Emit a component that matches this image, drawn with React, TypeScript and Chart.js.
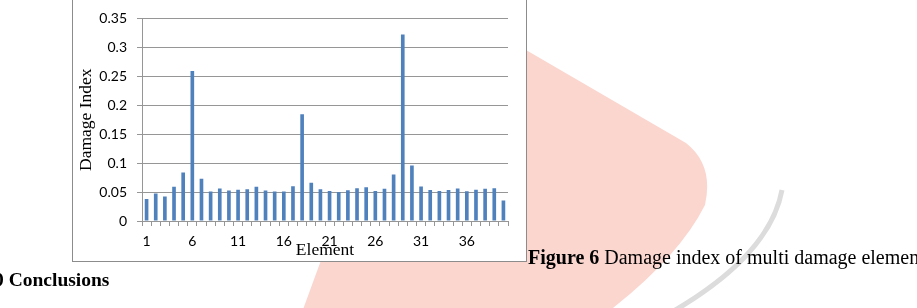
import React, { useEffect, useRef } from "react";
import { Chart, registerables } from "chart.js";

Chart.register(...registerables);

const categories = [
  "1", "2", "3", "4", "5", "6", "7", "8", "9", "10",
  "11", "12", "13", "14", "15", "16", "17", "18", "19", "20",
  "21", "22", "23", "24", "25", "26", "27", "28", "29", "30",
  "31", "32", "33", "34", "35", "36", "37", "38", "39", "40",
];

const damageIndex = [
  0.038, 0.0475, 0.0425, 0.059, 0.084, 0.259, 0.073, 0.051, 0.056, 0.0525,
  0.054, 0.055, 0.059, 0.0525, 0.051, 0.051, 0.06, 0.1845, 0.066, 0.055,
  0.052, 0.05, 0.053, 0.0565, 0.0585, 0.052, 0.0555, 0.0805, 0.322, 0.096,
  0.0595, 0.0535, 0.052, 0.0535, 0.056, 0.0515, 0.054, 0.0555, 0.0567, 0.0354,
];

const xTickLabels = ["1", "6", "11", "16", "21", "26", "31", "36"];

const yMin = 0;
const yMax = 0.35;
const yStep = 0.05;

const GRID = "#969696";
const BAR = "#4F81BD";

export default function App() {
  const ref = useRef<HTMLCanvasElement | null>(null);

  useEffect(() => {
    if (!ref.current) return;
    const chart = new Chart(ref.current, {
      type: "bar",
      data: {
        labels: categories,
        datasets: [
          {
            data: damageIndex,
            backgroundColor: BAR,
            borderWidth: 0,
            barPercentage: 0.4,
            categoryPercentage: 1,
          },
        ],
      },
      options: {
        responsive: false,
        animation: false,
        layout: { padding: { left: 73, right: 409, top: 12, bottom: 46 } },
        plugins: {
          legend: { display: false },
          tooltip: { enabled: false },
        },
        scales: {
          x: {
            afterFit: (s: any) => {
              s.height = 41;
            },
            grid: {
              display: true,
              drawOnChartArea: false,
              drawTicks: true,
              tickLength: 5,
              color: GRID,
              offset: true,
            },
            border: { display: true, color: GRID },
            ticks: {
              autoSkip: false,
              maxRotation: 0,
              minRotation: 0,
              padding: 7,
              color: "#000",
              font: { family: "Lato", size: 14 },
              callback: (_v: any, i: number) => {
                const l = categories[i];
                return xTickLabels.includes(l) ? l : "";
              },
            },
            title: {
              display: true,
              text: "Element",
              color: "#000",
              font: { family: "Liberation Serif", size: 17.5 },
              padding: { top: 0, bottom: 1 },
            },
          },
          y: {
            min: yMin,
            max: yMax,
            afterFit: (s: any) => {
              s.width = 69;
            },
            grid: { color: GRID, tickLength: 5, drawTicks: true },
            border: { display: true, color: GRID },
            ticks: {
              stepSize: yStep,
              padding: 10,
              color: "#000",
              font: { family: "Lato", size: 14 },
              callback: (v: any) => String(Math.round(Number(v) * 100) / 100),
            },
            title: {
              display: true,
              text: "Damage Index",
              color: "#000",
              font: { family: "Liberation Serif", size: 17.5 },
              padding: { top: 3, bottom: 0 },
            },
          },
        },
      },
    });
    return () => chart.destroy();
  }, []);

  return (
    <div
      style={{
        position: "absolute",
        left: 0,
        top: 0,
        width: 917,
        height: 308,
        overflow: "hidden",
        background: "#fff",
      }}
    >
      <svg
        width={917}
        height={308}
        style={{ position: "absolute", left: 0, top: 0 }}
      >
        <path
          d="M400,-100 L526,50 L686,143 Q714,165 705,205 Q680,255 613,308 L585,345 L290,345 L320,263 L400,40 Z"
          fill="#fbd6cf"
        />
        <path
          d="M782,190 Q770,255 672,312"
          stroke="#dcdcdc"
          strokeWidth={5}
          fill="none"
        />
      </svg>
      <div
        style={{
          position: "absolute",
          left: 72,
          top: -10,
          width: 455,
          height: 272,
          boxSizing: "border-box",
          border: "1px solid #8c8c8c",
          background: "#fff",
        }}
      />
      <canvas
        ref={ref}
        width={917}
        height={308}
        style={{ position: "absolute", left: 0, top: 0, width: 917, height: 308 }}
      />
      <div
        style={{
          position: "absolute",
          left: 528,
          top: 247,
          fontFamily: "'Liberation Serif', serif",
          fontSize: 20,
          lineHeight: "20px",
          whiteSpace: "nowrap",
          color: "#000",
        }}
      >
        <b>Figure 6</b> Damage index of multi damage elements
      </div>
      <div
        style={{
          position: "absolute",
          left: -6,
          top: 270,
          fontFamily: "'Liberation Serif', serif",
          fontSize: 19.5,
          lineHeight: "20px",
          whiteSpace: "nowrap",
          fontWeight: "bold",
          color: "#000",
        }}
      >
        0 Conclusions
      </div>
    </div>
  );
}
